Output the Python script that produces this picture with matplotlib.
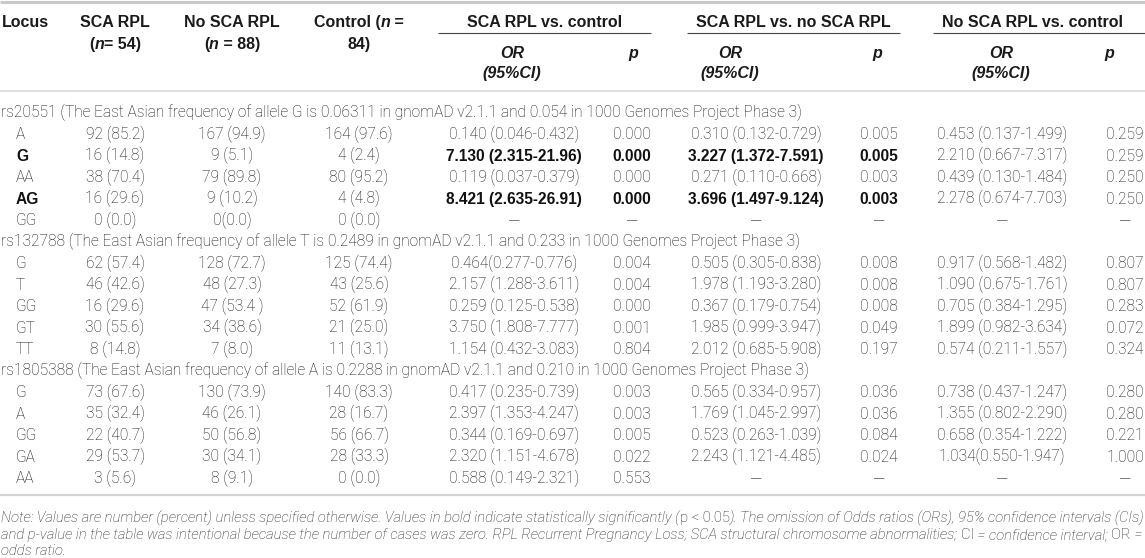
import matplotlib
matplotlib.use('Agg')
import matplotlib.pyplot as plt
from matplotlib import font_manager

W, H = 1145, 558

# ---- table data ----
locus_names = ['rs20551', 'rs132788', 'rs1805388']
locus_notes = [
    '(The East Asian frequency of allele G is 0.06311 in gnomAD v2.1.1 and 0.054 in 1000 Genomes Project Phase 3)',
    '(The East Asian frequency of allele T is 0.2489 in gnomAD v2.1.1 and 0.233 in 1000 Genomes Project Phase 3)',
    '(The East Asian frequency of allele A is 0.2288 in gnomAD v2.1.1 and 0.210 in 1000 Genomes Project Phase 3)',
]
locus_sizes = [5, 5, 5]

genotypes = ['A', 'G', 'AA', 'AG', 'GG',
             'G', 'T', 'GG', 'GT', 'TT',
             'G', 'A', 'GG', 'GA', 'AA']
sca_rpl = ['92 (85.2)', '16 (14.8)', '38 (70.4)', '16 (29.6)', '0 (0.0)',
           '62 (57.4)', '46 (42.6)', '16 (29.6)', '30 (55.6)', '8 (14.8)',
           '73 (67.6)', '35 (32.4)', '22 (40.7)', '29 (53.7)', '3 (5.6)']
no_sca_rpl = ['167 (94.9)', '9 (5.1)', '79 (89.8)', '9 (10.2)', '0(0.0)',
              '128 (72.7)', '48 (27.3)', '47 (53.4 )', '34 (38.6)', '7 (8.0)',
              '130 (73.9)', '46 (26.1)', '50 (56.8)', '30 (34.1)', '8 (9.1)']
control = ['164 (97.6)', '4 (2.4)', '80 (95.2)', '4 (4.8)', '0 (0.0)',
           '125 (74.4)', '43 (25.6)', '52 (61.9)', '21 (25.0)', '11 (13.1)',
           '140 (83.3)', '28 (16.7)', '56 (66.7)', '28 (33.3)', '0 (0.0)']
or_sca_ctrl = ['0.140 (0.046-0.432)', '7.130 (2.315-21.96)', '0.119 (0.037-0.379)', '8.421 (2.635-26.91)', '—',
               '0.464(0.277-0.776)', '2.157 (1.288-3.611)', '0.259 (0.125-0.538)', '3.750 (1.808-7.777)', '1.154 (0.432-3.083)',
               '0.417 (0.235-0.739)', '2.397 (1.353-4.247)', '0.344 (0.169-0.697)', '2.320 (1.151-4.678)', '0.588 (0.149-2.321)']
p_sca_ctrl = ['0.000', '0.000', '0.000', '0.000', '—',
              '0.004', '0.004', '0.000', '0.001', '0.804',
              '0.003', '0.003', '0.005', '0.022', '0.553']
or_sca_nosca = ['0.310 (0.132-0.729)', '3.227 (1.372-7.591)', '0.271 (0.110-0.668)', '3.696 (1.497-9.124)', '—',
                '0.505 (0.305-0.838)', '1.978 (1.193-3.280)', '0.367 (0.179-0.754)', '1.985 (0.999-3.947)', '2.012 (0.685-5.908)',
                '0.565 (0.334-0.957)', '1.769 (1.045-2.997)', '0.523 (0.263-1.039)', '2.243 (1.121-4.485)', '—']
p_sca_nosca = ['0.005', '0.005', '0.003', '0.003', '—',
               '0.008', '0.008', '0.008', '0.049', '0.197',
               '0.036', '0.036', '0.084', '0.024', '—']
or_nosca_ctrl = ['0.453 (0.137-1.499)', '2.210 (0.667-7.317)', '0.439 (0.130-1.484)', '2.278 (0.674-7.703)', '—',
                 '0.917 (0.568-1.482)', '1.090 (0.675-1.761)', '0.705 (0.384-1.295)', '1.899 (0.982-3.634)', '0.574 (0.211-1.557)',
                 '0.738 (0.437-1.247)', '1.355 (0.802-2.290)', '0.658 (0.354-1.222)', '1.034(0.550-1.947)', '—']
p_nosca_ctrl = ['0.259', '0.259', '0.250', '0.250', '—',
                '0.807', '0.807', '0.283', '0.072', '0.324',
                '0.280', '0.280', '0.221', '1.000', '—']
# rows (index into the lists above) that are significant -> bold
bold_rows = [1, 3]
bold_cols = [0, 4, 5, 6, 7]  # genotype, OR/p SCA vs ctrl, OR/p SCA vs no SCA

group_titles = ['SCA RPL vs. control', 'SCA RPL vs. no SCA RPL', 'No SCA RPL vs. control']

# ---- layout (pixels) ----
col_x = [16, 115, 232, 359, 514, 632, 756, 879, 1002, 1125]
group_x = [545, 793, 1033]
group_span = [(438, 651), (687, 900), (933, 1145)]
or_head_x = [512, 730, 1001]
p_head_x = [633, 877, 1109]

row_y0, row_dy = 112, 21.5

BODY = 11.2   # pt (~15.5 px)
HEAD = 11.5   # pt (~16 px)
NOTE = 9.4
HEADFONT = 'Liberation Sans'
TXT = '#111111'

# pick a light face for the body text if one is installed
faces = font_manager.fontManager.ttflist


def is_light(f):
    w = f.weight
    if isinstance(w, str):
        return w in ('light', 'ultralight', 'extra light')
    return w <= 300


BODYFONT, BODYWEIGHT = 'Liberation Sans', 'normal'
for fam in ['Roboto', 'Lato', 'Open Sans', 'Inter']:
    if any(f.name == fam and is_light(f) and f.style == 'normal' for f in faces):
        BODYFONT, BODYWEIGHT = fam, 'light'
        break
NOTEFONT, NOTEWEIGHT = 'Liberation Sans', 'normal'
if BODYWEIGHT == 'light' and any(f.name == BODYFONT and is_light(f) and f.style == 'italic' for f in faces):
    NOTEFONT, NOTEWEIGHT = BODYFONT, 'light'


def px(pt):
    return pt * 100 / 72.0


fig = plt.figure(figsize=(W / 100, H / 100), dpi=100)
ax = fig.add_axes([0, 0, 1, 1])
ax.set_xlim(0, W)
ax.set_ylim(H, 0)
ax.axis('off')
renderer = fig.canvas.get_renderer()


def put(x, y, s, size=BODY, ha='center', weight=None, style='normal', color=TXT, family=None):
    # y is the visual middle of the capital letters
    if family is None:
        family = BODYFONT
    if weight is None:
        weight = BODYWEIGHT
    base = y + 0.716 * px(size) / 2
    return ax.text(x, base, s, ha=ha, va='baseline', fontsize=size, fontweight=weight,
                   fontstyle=style, color=color, family=family)


def width(s, **kw):
    t1 = put(0, -100, s + '|', ha='left', **kw)
    t2 = put(0, -100, '|', ha='left', **kw)
    w = t1.get_window_extent(renderer).width - t2.get_window_extent(renderer).width
    t1.remove()
    t2.remove()
    return w


def runs(x, y, parts, **kw):
    for s, st in parts:
        put(x, y, s, ha='left', style=st, **kw)
        x += width(s, style=st, **kw)


# ---- rules ----
ax.plot([0, W], [1.5, 1.5], color='#c9c9c9', lw=2.2, solid_capstyle='butt')
ax.plot([0, W], [91, 91], color='#d4d4d4', lw=1.1, solid_capstyle='butt')
ax.plot([0, W], [495, 495], color='#d4d4d4', lw=1.6, solid_capstyle='butt')
for a, b in group_span:
    ax.plot([a, b], [33, 33], color='#444444', lw=0.8, solid_capstyle='butt')

# ---- header ----
hk = dict(size=HEAD, weight='bold', color='#1a1a1a', family=HEADFONT)
put(2, 21, 'Locus', ha='left', **hk)
put(115, 21, 'SCA RPL', **hk)
put(232, 21, 'No SCA RPL', **hk)


def header_n(xc, y, parts):
    total = sum(width(s, style=st, **hk) for s, st in parts)
    runs(xc - total / 2, y, parts, **hk)


header_n(115, 43, [('(', 'normal'), ('n', 'italic'), ('= 54)', 'normal')])
header_n(232, 43, [('(', 'normal'), ('n', 'italic'), (' = 88)', 'normal')])
header_n(359, 21, [('Control (', 'normal'), ('n', 'italic'), (' =', 'normal')])
put(359, 43, '84)', **hk)

for gx, title in zip(group_x, group_titles):
    put(gx, 21, title, **hk)
for ox in or_head_x:
    put(ox, 52, 'OR', style='italic', **hk)
    put(ox, 72, '(95%CI)', style='italic', **hk)
for pxx in p_head_x:
    put(pxx, 52, 'p', style='italic', **hk)

# ---- body ----
columns = [genotypes, sca_rpl, no_sca_rpl, control, or_sca_ctrl, p_sca_ctrl,
           or_sca_nosca, p_sca_nosca, or_nosca_ctrl, p_nosca_ctrl]
line = 0
r = 0
for name, note, n in zip(locus_names, locus_notes, locus_sizes):
    put(1, row_y0 + line * row_dy, name + ' ' + note, ha='left')
    line += 1
    for _ in range(n):
        y = row_y0 + line * row_dy
        for c, col in enumerate(columns):
            s = col[r]
            bold = (r in bold_rows) and (c in bold_cols)
            kw = dict(weight='bold', color='#111111', family=HEADFONT) if bold else {}
            if s == '—':
                put(col_x[c], y, '—', size=7.5, color='#555555', family=HEADFONT, weight='normal')
            elif c == 0:
                put(col_x[c], y, s, ha='left', **kw)
            else:
                put(col_x[c], y, s, **kw)
        line += 1
        r += 1

# ---- footnote ----
note_lines = [
    [('Note: Values are number (percent) unless specified otherwise. Values in bold indicate statistically significantly (', 'italic'),
     ('p < 0.05', 'normal'),
     ('). The omission of Odds ratios (ORs), 95% confidence intervals (CIs)', 'italic')],
    [('and p-value in the table was intentional because the number of cases was zero. RPL Recurrent Pregnancy Loss; SCA structural chromosome abnormalities; ', 'italic'),
     ('CI', 'normal'), (' = confidence interval; ', 'italic'), ('OR', 'normal'), (' =', 'italic')],
    [('odds ratio.', 'italic')],
]

nk = dict(family=NOTEFONT, weight=NOTEWEIGHT, color='#222222')
w1 = sum(width(s, size=NOTE, style=st, **nk) for s, st in note_lines[0])
note_size = NOTE * 1138.0 / w1
for i, parts in enumerate(note_lines):
    runs(1, 517 + i * 16.5, parts, size=note_size, **nk)

fig.savefig('out.png', dpi=100)
